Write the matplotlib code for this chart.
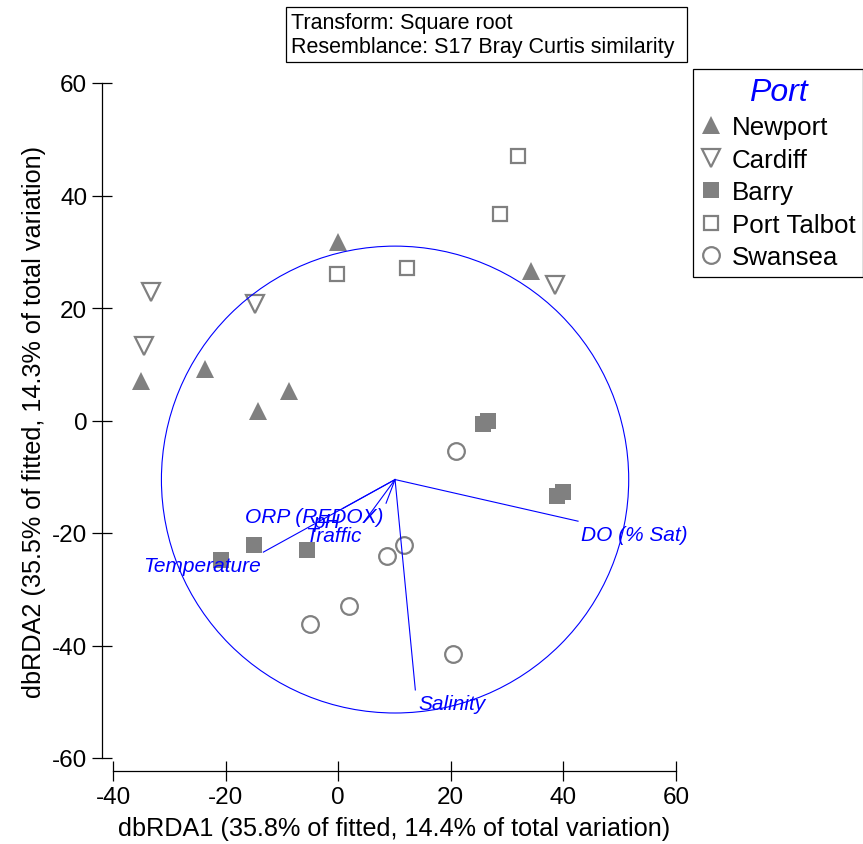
import matplotlib
matplotlib.use("Agg")
import matplotlib.pyplot as plt
from matplotlib.patches import Circle, Rectangle

plt.rcParams["font.family"] = ["Liberation Sans", "DejaVu Sans"]
plt.rcParams["axes.unicode_minus"] = False

# sample scores on dbRDA1 / dbRDA2
newport_x = [0.0, 34.3, -35.0, -23.6, -14.2, -8.7]
newport_y = [31.7, 26.6, 7.0, 9.2, 1.7, 5.2]
cardiff_x = [-33.2, -34.5, -14.7, 38.5]
cardiff_y = [22.8, 13.2, 20.7, 24.1]
barry_x = [25.8, 26.6, 38.9, 40.0, -20.8, -14.9, -5.5]
barry_y = [-0.6, -0.1, -13.4, -12.7, -24.8, -22.1, -23.0]
talbot_x = [32.0, 28.8, -0.2, 12.3]
talbot_y = [47.0, 36.7, 26.0, 27.1]
swansea_x = [21.0, 11.7, 8.7, 2.0, -5.0, 20.4]
swansea_y = [-5.4, -22.1, -24.1, -33.0, -36.2, -41.5]

# predictor vectors (end points), drawn from the centre of the circle
env_vars = ["ORP (REDOX)", "pH", "Traffic", "Temperature", "DO (% Sat)", "Salinity"]
vec_x = [8.5, 0.9, 4.6, -13.3, 42.6, 13.7]
vec_y = [-14.7, -15.6, -18.0, -23.4, -17.9, -47.9]
origin = (10.1, -10.5)
radius = 41.5

grey = "#808080"
blue = "#0000ff"

fig = plt.figure(figsize=(8.63, 8.45), dpi=100)
ax = fig.add_axes([113 / 863, 86 / 845, 563 / 863, 675 / 845])

ax.plot(newport_x, newport_y, "^", ms=13.5, color=grey, mew=0, label="Newport")
ax.plot(cardiff_x, cardiff_y, "v", ms=12.5, mfc="white", mec=grey, mew=1.6, label="Cardiff")
ax.plot(barry_x, barry_y, "s", ms=12, color=grey, mew=0, label="Barry")
ax.plot(talbot_x, talbot_y, "s", ms=10.7, mfc="white", mec=grey, mew=1.6, label="Port Talbot")
ax.plot(swansea_x, swansea_y, "o", ms=12, mfc="white", mec=grey, mew=1.6, label="Swansea")

ax.add_patch(Circle(origin, radius, fill=False, ec=blue, lw=0.8, zorder=3))
for name, x, y in zip(env_vars, vec_x, vec_y):
    ax.plot([origin[0], x], [origin[1], y], color=blue, lw=0.8, zorder=3)
    ha = "left" if x > origin[0] else "right"
    dx = 2 if ha == "left" else -2
    ax.annotate(name, (x, y), xytext=(dx, -3), textcoords="offset points",
                ha=ha, va="top", color=blue, style="italic", fontsize=15, zorder=4)

ax.set_xlim(-40, 60)
ax.set_ylim(-60, 60)
ax.set_xticks(range(-40, 61, 20))
ax.set_yticks(range(-60, 61, 20))
for side in ("top", "right"):
    ax.spines[side].set_visible(False)
ax.spines["left"].set_position(("outward", 8))
ax.spines["bottom"].set_position(("outward", 9.4))
for side in ("left", "bottom"):
    ax.spines[side].set_linewidth(0.9)
ax.tick_params(direction="inout", length=15, width=0.9, labelsize=17.5, pad=3)

ax.set_xlabel("dbRDA1 (35.8% of fitted, 14.4% of total variation)", fontsize=18.2, labelpad=6)
ax.set_ylabel("dbRDA2 (35.5% of fitted, 14.3% of total variation)", fontsize=18.2, labelpad=4)

leg = ax.legend(loc="upper left", bbox_to_anchor=(693 / 863, 775 / 845),
                bbox_transform=fig.transFigure, borderaxespad=0, fontsize=18.6,
                title="Port", fancybox=False, edgecolor="black", framealpha=1,
                handlelength=0.8, handletextpad=0.4, labelspacing=0.33, borderpad=0.3)
leg.get_frame().set_linewidth(0.9)
leg.get_title().set_color(blue)
leg.get_title().set_fontstyle("italic")
leg.get_title().set_fontsize(23)

fig.add_artist(Rectangle((286 / 863, 782 / 845), 401 / 863, 55 / 845, fill=False,
                         ec="black", lw=0.9, transform=fig.transFigure))
fig.text(291 / 863, 809.5 / 845, "Transform: Square root\nResemblance: S17 Bray Curtis similarity",
         ha="left", va="center", fontsize=15.5, linespacing=1.25)

fig.savefig("out.png", dpi=100)
